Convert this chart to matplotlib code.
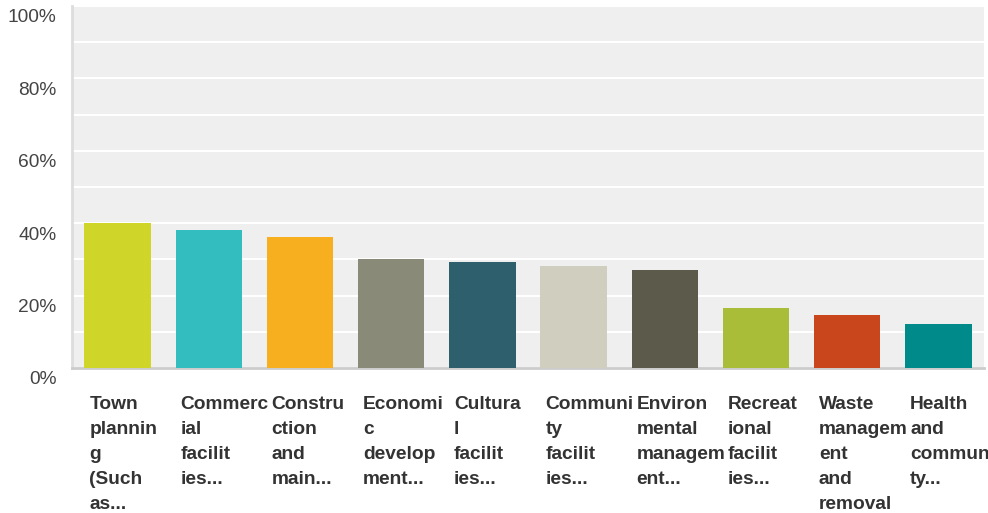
import matplotlib
matplotlib.use('Agg')
import matplotlib.pyplot as plt
from matplotlib.transforms import ScaledTranslation
from matplotlib.ticker import FuncFormatter
import numpy as np

categories = [
    'Town\nplannin\ng\n(Such\nas...',
    'Commerc\nial\nfacilit\nies...',
    'Constru\nction\nand\nmain...',
    'Economi\nc\ndevelop\nment...',
    'Cultura\nl\nfacilit\nies...',
    'Communi\nty\nfacilit\nies...',
    'Environ\nmental\nmanagem\nent...',
    'Recreat\nional\nfacilit\nies...',
    'Waste\nmanagem\nent\nand\nremoval',
    'Health\nand\ncommuni\nty...',
]
values = [40.1, 38.1, 36.2, 30.1, 29.3, 28.2, 27.1, 16.6, 14.6, 12.2]
colors = ['#cfd629', '#33bdbf', '#f7af20', '#8a8a78', '#2e5f6d',
          '#cfcebf', '#5b5a4b', '#a9bd38', '#c9461c', '#008b8a']
yticks = [0, 20, 40, 60, 80, 100]

plt.rcParams['font.family'] = ['Liberation Sans', 'DejaVu Sans']

fig = plt.figure(figsize=(9.88, 5.13), dpi=100)
ax = fig.add_axes([72 / 988, 1 - 368 / 513, 912 / 988, 362 / 513])
ax.set_facecolor('#efefef')

x = np.arange(len(categories))
width = 0.73
ax.bar(x, values, width=width, color=colors, zorder=3)

ax.set_xlim(-0.5, len(categories) - 0.5)
ax.set_ylim(0, 100)
ax.set_yticks(yticks)
ax.yaxis.set_major_formatter(FuncFormatter(lambda v, p: f'{v:.0f}%'))
ax.set_yticks(np.arange(10, 101, 10), minor=True)
ax.grid(axis='y', which='both', color='white', linewidth=1.5, zorder=1)
ax.tick_params(axis='y', which='both', length=0, labelsize=13.8, labelcolor='#444444', pad=11)
ax.tick_params(axis='x', length=0, labelbottom=False)

for lab in ax.get_yticklabels():
    lab.set_transform(lab.get_transform() + ScaledTranslation(0, -10 / 100, fig.dpi_scale_trans))

for side in ['top', 'right']:
    ax.spines[side].set_visible(False)
ax.spines['left'].set_color('#dddddd')
ax.spines['left'].set_linewidth(2)
ax.spines['bottom'].set_color('#cccccc')
ax.spines['bottom'].set_linewidth(2)

for i, label in enumerate(categories):
    ax.annotate(label, xy=(i - width / 2, 0), xycoords=('data', 'axes fraction'),
                xytext=(5, -28), textcoords='offset pixels',
                ha='left', va='top', fontsize=13.8, fontweight='bold',
                color='#333333', linespacing=1.62, annotation_clip=False)

fig.savefig('out.png', dpi=100)
